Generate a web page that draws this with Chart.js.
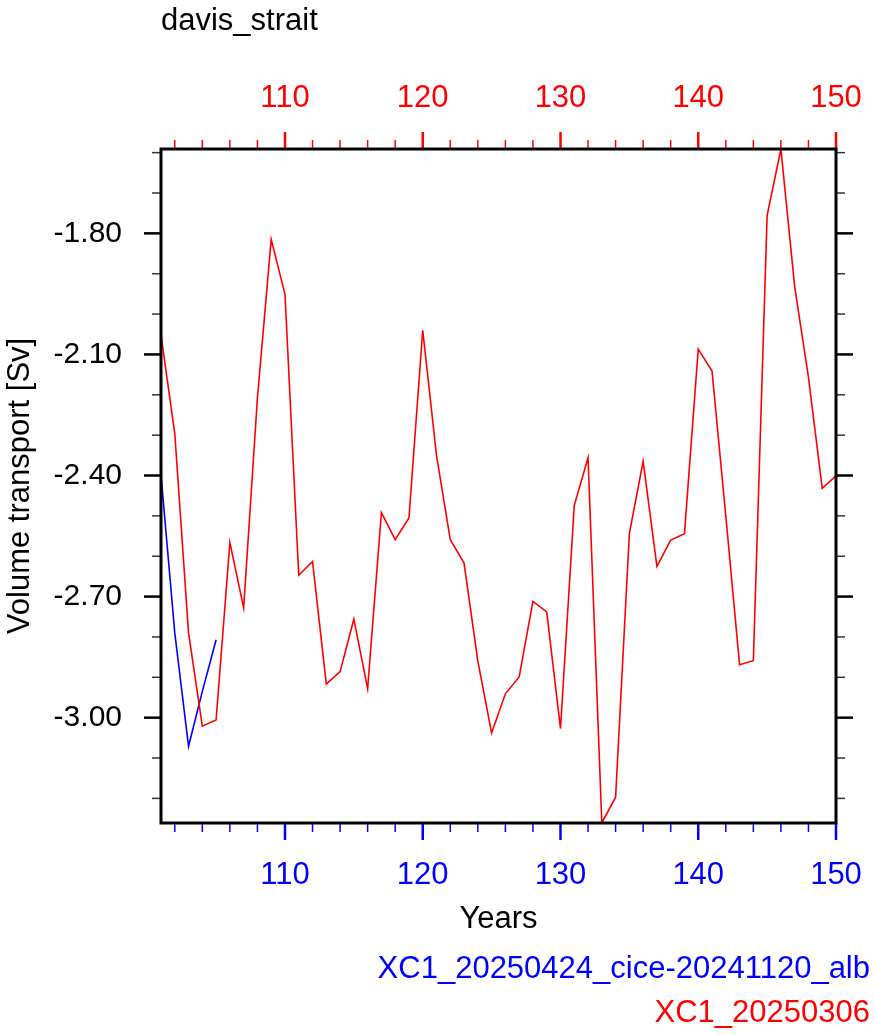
<!DOCTYPE html>
<html>
<head>
<meta charset="utf-8">
<title>davis_strait</title>
<script src="https://cdn.jsdelivr.net/npm/chart.js@4.4.1/dist/chart.umd.min.js"></script>
<style>
  body { margin: 0; background: #fff; }
  canvas { display: block; }
</style>
</head>
<body>
<canvas id="transportChart" width="875" height="1035"></canvas>
<script>
// Years for the base run (101..150)
const years = [101, 102, 103, 104, 105, 106, 107, 108, 109, 110,
               111, 112, 113, 114, 115, 116, 117, 118, 119, 120,
               121, 122, 123, 124, 125, 126, 127, 128, 129, 130,
               131, 132, 133, 134, 135, 136, 137, 138, 139, 140,
               141, 142, 143, 144, 145, 146, 147, 148, 149, 150];
// XC1_20250306 (red)
const transportBase = [-2.052, -2.296, -2.790, -3.021, -3.006, -2.566, -2.728, -2.208, -1.815, -1.951,
                       -2.647, -2.613, -2.917, -2.886, -2.756, -2.928, -2.492, -2.559, -2.505, -2.040,
                       -2.350, -2.559, -2.617, -2.860, -3.038, -2.941, -2.899, -2.712, -2.738, -3.027,
                       -2.474, -2.356, -3.261, -3.197, -2.544, -2.365, -2.625, -2.560, -2.544, -2.087,
                       -2.141, -2.500, -2.869, -2.859, -1.756, -1.591, -1.932, -2.156, -2.432, -2.401];
// XC1_20250424_cice-20241120_alb (blue), only 5 years so far
const yearsAlb = [101, 102, 103, 104, 105];
const transportAlb = [-2.399, -2.790, -3.071, -2.935, -2.807];

const xTickLabels = [110, 120, 130, 140, 150];
const yTickLabels = [-3.00, -2.70, -2.40, -2.10, -1.80];

const labelBase = 'XC1_20250306';
const labelAlb = 'XC1_20250424_cice-20241120_alb';

const RED = '#ff0000';
const BLUE = '#0000ff';
const FONT = "'Liberation Sans', Arial, Helvetica, sans-serif";

Chart.defaults.font.family = FONT;

const allValues = transportBase.concat(transportAlb);
const yMin = Math.min(...allValues);
const yMax = Math.max(...allValues);

function line(ctx, x1, y1, x2, y2, color, width) {
    ctx.beginPath();
    ctx.strokeStyle = color;
    ctx.lineWidth = width;
    ctx.moveTo(x1, y1);
    ctx.lineTo(x2, y2);
    ctx.stroke();
}

// fixed axis sizes so the plot box lands where the reference has it
function fixHeight(h) {
    return scale => {
        scale.height = h;
        scale.paddingLeft = 0;
        scale.paddingRight = 0;
    };
}

// NCL-style frame with outward major/minor ticks, plus title and legend text
const nclFrame = {
    id: 'nclFrame',
    afterDraw(chart) {
        const { ctx, chartArea: a, scales } = chart;
        ctx.save();

        // x ticks: minor every 2 years, major every 10
        for (let yr = 102; yr <= 150; yr += 2) {
            const px = scales.x.getPixelForValue(yr);
            const major = yr % 10 === 0;
            const len = major ? 17 : 9;
            const w = major ? 2.5 : 1.5;
            line(ctx, px, a.bottom, px, a.bottom + len, BLUE, w);
            line(ctx, px, a.top, px, a.top - len, RED, w);
        }

        // y ticks: minor every 0.1, major every 0.3
        for (let k = -33; k <= -15; k++) {
            const v = k / 10;
            if (v < yMin || v > yMax) continue;
            const py = scales.y.getPixelForValue(v);
            const major = (k + 30) % 3 === 0;
            const len = major ? 17 : 9;
            const w = major ? 2.5 : 1.5;
            line(ctx, a.left, py, a.left - len, py, major ? '#000' : '#333', w);
            line(ctx, a.right, py, a.right + len, py, major ? '#000' : '#333', w);
        }

        // frame
        ctx.strokeStyle = '#000';
        ctx.lineWidth = 3;
        ctx.strokeRect(a.left, a.top, a.right - a.left, a.bottom - a.top);

        // title
        ctx.font = '31px ' + FONT;
        ctx.textBaseline = 'alphabetic';
        ctx.fillStyle = '#000';
        ctx.textAlign = 'left';
        ctx.fillText('davis_strait', a.left, 30);

        // legend text, right aligned
        ctx.font = '31px ' + FONT;
        ctx.textAlign = 'right';
        ctx.fillStyle = BLUE;
        ctx.fillText(labelAlb, 870, 978);
        ctx.fillStyle = RED;
        ctx.fillText(labelBase, 870, 1022);

        ctx.restore();
    }
};

const ctx = document.getElementById('transportChart').getContext('2d');
new Chart(ctx, {
    type: 'line',
    data: {
        datasets: [{
            label: labelAlb,
            data: yearsAlb.map((yr, i) => ({ x: yr, y: transportAlb[i] })),
            borderColor: BLUE,
            borderWidth: 1.6,
            pointRadius: 0,
            tension: 0,
            xAxisID: 'x',
            yAxisID: 'y',
            order: 1
        }, {
            label: labelBase,
            data: years.map((yr, i) => ({ x: yr, y: transportBase[i] })),
            borderColor: RED,
            borderWidth: 1.6,
            pointRadius: 0,
            tension: 0,
            xAxisID: 'x',
            yAxisID: 'y',
            order: 0
        }]
    },
    options: {
        responsive: false,
        animation: false,
        layout: { padding: 0 },
        plugins: {
            legend: { display: false },
            title: { display: false },
            tooltip: { enabled: false }
        },
        scales: {
            x: {
                type: 'linear',
                position: 'bottom',
                min: 101,
                max: 150,
                afterBuildTicks: scale => { scale.ticks = xTickLabels.map(v => ({ value: v })); },
                afterFit: fixHeight(212),
                grid: { display: false, drawTicks: false },
                border: { display: false },
                ticks: {
                    color: BLUE,
                    font: { size: 31 },
                    padding: 34,
                    maxRotation: 0,
                    autoSkip: false
                },
                title: {
                    display: true,
                    text: 'Years',
                    color: '#000',
                    font: { size: 31 },
                    padding: { top: 0, bottom: 97 }
                }
            },
            xTop: {
                type: 'linear',
                position: 'top',
                min: 101,
                max: 150,
                afterBuildTicks: scale => { scale.ticks = xTickLabels.map(v => ({ value: v })); },
                afterFit: fixHeight(149),
                grid: { display: false, drawTicks: false },
                border: { display: false },
                ticks: {
                    color: RED,
                    font: { size: 31 },
                    padding: 32,
                    maxRotation: 0,
                    autoSkip: false
                }
            },
            y: {
                type: 'linear',
                position: 'left',
                min: yMin,
                max: yMax,
                afterBuildTicks: scale => { scale.ticks = yTickLabels.map(v => ({ value: v })); },
                afterFit: scale => { scale.width = 161; },
                grid: { display: false, drawTicks: false },
                border: { display: false },
                ticks: {
                    color: '#000',
                    font: { size: 30 },
                    padding: 39,
                    callback: v => v.toFixed(2)
                },
                title: {
                    display: true,
                    text: 'Volume transport [Sv]',
                    color: '#000',
                    font: { size: 31 },
                    padding: { top: 2, bottom: 0 }
                }
            },
            y2: {
                type: 'linear',
                position: 'right',
                min: yMin,
                max: yMax,
                afterFit: scale => { scale.width = 39; },
                grid: { display: false, drawTicks: false },
                border: { display: false },
                ticks: { display: false }
            }
        }
    },
    plugins: [nclFrame]
});
</script>
</body>
</html>
